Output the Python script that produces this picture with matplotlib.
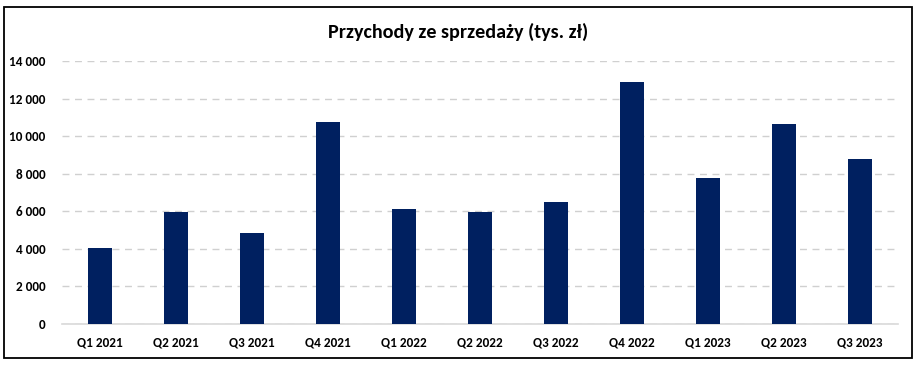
#!/usr/bin/env python3

import matplotlib
matplotlib.use('Agg')
import matplotlib.pyplot as plt
from matplotlib.patches import Rectangle
from matplotlib.ticker import FuncFormatter

quarters = ['Q1 2021', 'Q2 2021', 'Q3 2021', 'Q4 2021',
            'Q1 2022', 'Q2 2022', 'Q3 2022', 'Q4 2022',
            'Q1 2023', 'Q2 2023', 'Q3 2023']
revenue = [4030, 5960, 4860, 10740, 6140, 5960, 6480, 12870, 7760, 10670, 8800]
y_ticks = [0, 2000, 4000, 6000, 8000, 10000, 12000, 14000]

plt.rcParams['font.family'] = ['Carlito', 'Liberation Sans Narrow', 'Liberation Sans', 'DejaVu Sans']
plt.rcParams['font.weight'] = 'bold'

fig = plt.figure(figsize=(9.17, 3.68), dpi=100)
ax = fig.add_axes([62/917, 44/368, 836/917, 263/368])

x = range(len(quarters))
ax.bar(x, revenue, width=0.31, color='#002060', zorder=3)

ax.set_xlim(-0.5, len(quarters) - 0.5)
ax.set_ylim(0, 14000)
ax.set_yticks(y_ticks)
ax.yaxis.set_major_formatter(FuncFormatter(lambda v, p: '{:,.0f}'.format(v).replace(',', ' ')))
ax.set_xticks(list(x))
ax.set_xticklabels(quarters)

ax.grid(axis='y', color='#d0d0d0', linestyle=(0, (5, 4)), linewidth=1, zorder=0)
for s in ['top', 'right', 'left']:
    ax.spines[s].set_visible(False)
ax.spines['bottom'].set_color('#d9d9d9')
ax.spines['bottom'].set_linewidth(1.2)
ax.tick_params(axis='both', length=0, labelsize=9.5, colors='black')
ax.tick_params(axis='y', pad=12)
ax.tick_params(axis='x', pad=9)
for lbl in ax.get_xticklabels() + ax.get_yticklabels():
    lbl.set_fontweight('bold')

fig.text(0.5, 1 - 32/368, 'Przychody ze sprzedaży (tys. zł)', ha='center', va='center',
         fontsize=14.5, fontweight='bold')

# ramka wokol wykresu
fig.patches.append(Rectangle((3.5/917, 10/368), 908/917, 351/368, transform=fig.transFigure,
                             fill=False, edgecolor='black', linewidth=1.3))

fig.savefig('out.png', dpi=100)
